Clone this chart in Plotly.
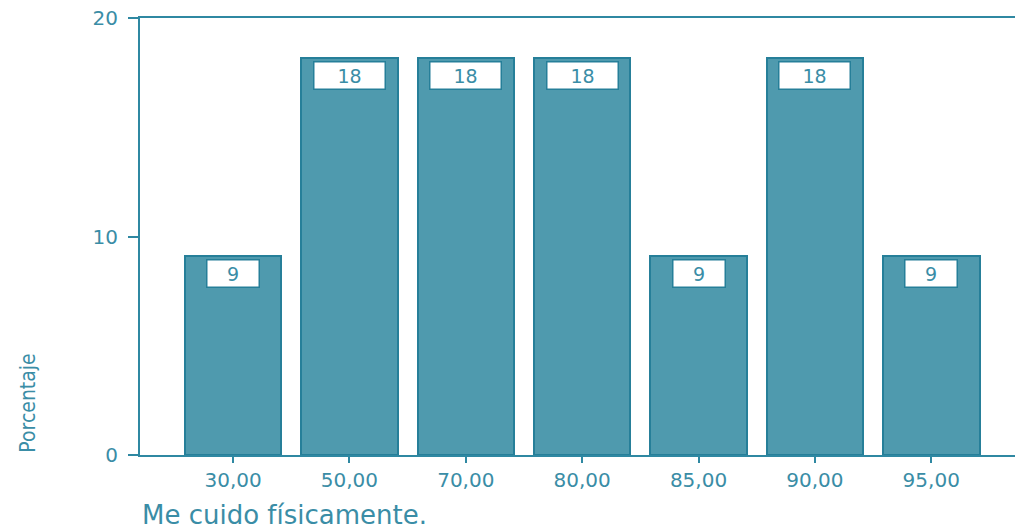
import plotly.graph_objects as go

categories = ["30,00", "50,00", "70,00", "80,00", "85,00", "90,00", "95,00"]
percent = [9.09, 18.18, 18.18, 18.18, 9.09, 18.18, 9.09]
labels = ["9", "18", "18", "18", "9", "18", "9"]
y_ticks = [0, 10, 20]

teal = "#2f88a2"
text_teal = "#3a8da6"
fill = "#4f9aae"
edge = "#267f99"

xpos = list(range(len(categories)))

fig = go.Figure()
fig.add_trace(go.Bar(x=xpos, y=percent, width=0.83,
                     marker=dict(color=fill, line=dict(color=edge, width=2)),
                     hoverinfo="skip"))

# value boxes at the top of every bar
for xi, v, lab in zip(xpos, percent, labels):
    fig.add_annotation(x=xi, y=v, xref="x", yref="y", text=lab,
                       showarrow=False, yanchor="top", yshift=-3,
                       width=28 + 19 * len(lab), height=22,
                       bgcolor="white", bordercolor=edge, borderwidth=1.5,
                       borderpad=2,
                       font=dict(family="DejaVu Sans", size=19, color=text_teal))

# axis titles
fig.add_annotation(x=-0.129, y=0, xref="paper", yref="y", text="Porcentaje",
                   textangle=-90, showarrow=False, xanchor="center", yanchor="bottom",
                   font=dict(family="DejaVu Sans Condensed, Liberation Sans Narrow, Roboto, sans-serif",
                             size=21, color=text_teal))
fig.add_annotation(x=0, y=-0.172, xref="paper", yref="paper",
                   text="Me cuido físicamente.", showarrow=False,
                   xanchor="left", yanchor="bottom", yshift=-2,
                   font=dict(family="DejaVu Sans", size=26, color=text_teal))

fig.update_layout(width=1015, height=531,
                  margin=dict(l=140, r=0, t=18, b=76),
                  plot_bgcolor="white", paper_bgcolor="white",
                  showlegend=False, bargap=0,
                  font=dict(family="DejaVu Sans", color=text_teal))
fig.update_xaxes(range=[-0.8, 6.72], tickvals=xpos, ticktext=categories,
                 showline=True, linecolor=teal, linewidth=2, mirror=True,
                 ticks="outside", ticklen=6, tickwidth=2, tickcolor=teal,
                 showgrid=False, zeroline=False,
                 tickfont=dict(family="DejaVu Sans", size=20, color=text_teal))
fig.update_yaxes(range=[0, 20], tickvals=y_ticks,
                 showline=True, linecolor=teal, linewidth=2,
                 ticks="outside", ticklen=10, tickwidth=2, tickcolor=teal,
                 showgrid=False, zeroline=False, ticklabelstandoff=6,
                 tickfont=dict(family="DejaVu Sans", size=20, color=text_teal))

# drop the default 8px page margin so the figure fills the window exactly
fig.write_html("out.html", config={"displayModeBar": False},
               post_script="document.body.style.margin='0';"
                           "document.body.style.overflow='hidden';")
